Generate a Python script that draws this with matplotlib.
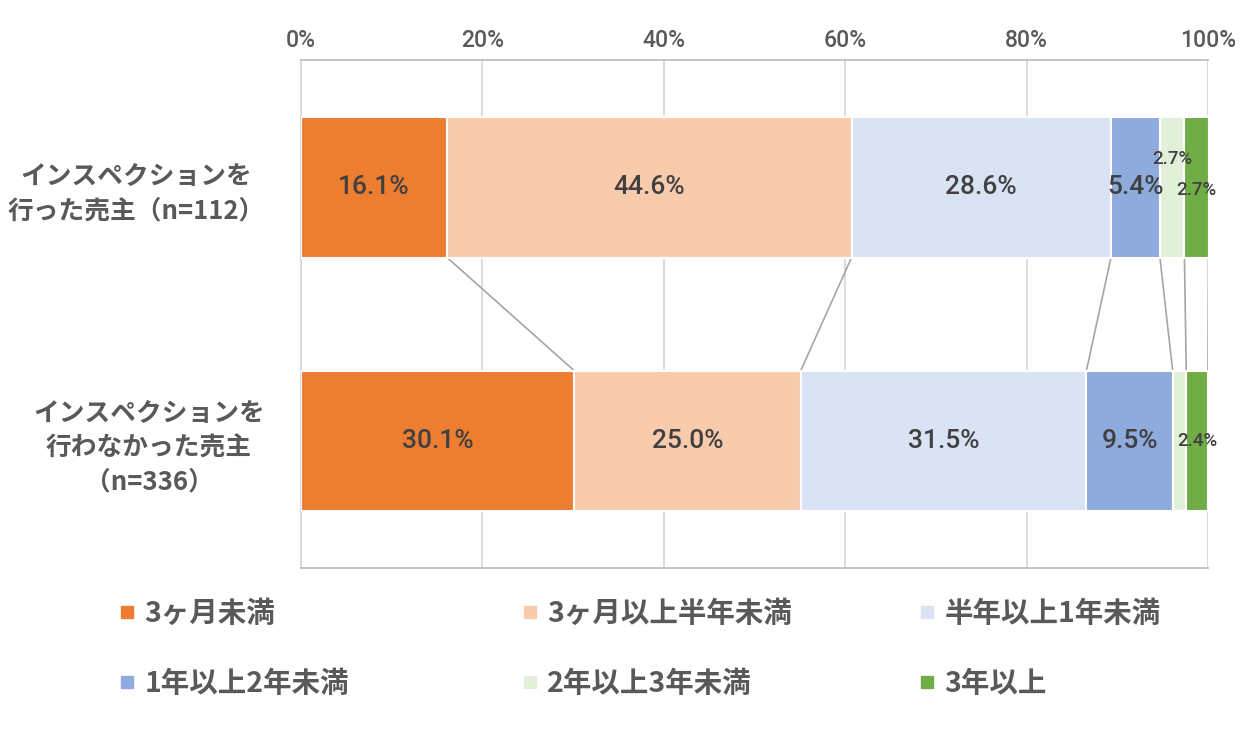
import matplotlib
matplotlib.use('Agg')
import matplotlib.pyplot as plt
from matplotlib.lines import Line2D
from matplotlib import font_manager as fm
from matplotlib.font_manager import FontProperties
import numpy as np

# ---------------- data ----------------
categories = ['インスペクションを\n行った売主（n=112）',
              'インスペクションを\n行わなかった売主\n（n=336）']
series = ['3ヶ月未満', '3ヶ月以上半年未満', '半年以上1年未満',
          '1年以上2年未満', '2年以上3年未満', '3年以上']
did_values = [16.1, 44.6, 28.6, 5.4, 2.7, 2.7]
didnot_values = [30.1, 25.0, 31.5, 9.5, 1.5, 2.4]
did_labels = ['16.1%', '44.6%', '28.6%', '5.4%', '2.7%', '2.7%']
didnot_labels = ['30.1%', '25.0%', '31.5%', '9.5%', '', '2.4%']
x_ticks = [0, 20, 40, 60, 80, 100]
x_tick_labels = ['0%', '20%', '40%', '60%', '80%', '100%']

# ---------------- style ----------------
colors = ['#ED7D31', '#F8CBAD', '#DAE3F3', '#8FAADC', '#E2F0D9', '#70AD47']
names = {f.name for f in fm.fontManager.ttflist}
if 'Liberation Sans Narrow' in names:
    num_font, big_fs, small_fs, tick_fs = 'Liberation Sans Narrow', 21, 15, 18
else:
    num_font, big_fs, small_fs, tick_fs = 'Roboto', 19, 13.5, 16.5
jp_font = ['Noto Sans CJK JP', 'DejaVu Sans']
bar_h = 0.555

fig = plt.figure(figsize=(12.59, 7.33), dpi=100)
ax = fig.add_axes([0.2391, 0.2251, 0.7204, 0.6930])

rows = [did_values, didnot_values]
row_labels = [did_labels, didnot_labels]
ypos = [0, 1]
lefts = [np.concatenate([[0], np.cumsum(r)[:-1]]) for r in rows]
ends = [np.cumsum(r) for r in rows]

for j in range(len(series)):
    ax.barh(ypos, [rows[0][j], rows[1][j]], left=[lefts[0][j], lefts[1][j]],
            height=bar_h, color=colors[j], edgecolor='white', linewidth=1.5,
            zorder=3)

# connector lines
for j in range(len(series)):
    ax.plot([ends[0][j], ends[1][j]], [ypos[0] + bar_h / 2, ypos[1] - bar_h / 2],
            color='#a5a5a5', lw=1.2, zorder=2)

# value labels
label_offsets = {(0, 4): -0.11, (0, 5): 0.01}
for i in range(2):
    for j in range(len(series)):
        txt = row_labels[i][j]
        if not txt:
            continue
        cx = lefts[i][j] + rows[i][j] / 2
        cy = ypos[i] + label_offsets.get((i, j), 0)
        fs = big_fs if rows[i][j] >= 4 else small_fs
        ax.text(cx, cy, txt, ha='center', va='center', fontsize=fs,
                color='#404040', family=num_font, weight='medium', zorder=5)

ax.set_xlim(0, 100)
ax.set_ylim(1.5, -0.5)
ax.set_xticks(x_ticks)
ax.set_xticklabels(x_tick_labels, family=num_font, fontsize=tick_fs, color='#595959',
                   weight='medium')
ax.xaxis.tick_top()
ax.tick_params(axis='x', length=0, pad=6)
ax.xaxis.grid(True, color='#d9d9d9', lw=1.3, zorder=0)
ax.set_axisbelow(True)

ax.set_yticks(ypos)
ax.set_yticklabels(categories, fontproperties=FontProperties(family=jp_font, weight='bold', size=18.5),
                   color='#595959', multialignment='center', linespacing=1.35)
ax.tick_params(axis='y', length=0, pad=26)

for s in ['top', 'bottom']:
    ax.spines[s].set_color('#bfbfbf')
    ax.spines[s].set_linewidth(1.3)
ax.spines['left'].set_color('#d9d9d9')
ax.spines['left'].set_linewidth(1.3)
ax.spines['right'].set_visible(False)

# legends: three columns
col_x = [120, 523, 920]
leg_prop = FontProperties(family=jp_font, weight='bold', size=20.5)
for c in range(3):
    idx = [c, c + 3]
    handles = [Line2D([], [], marker='s', ls='none', markersize=8,
                      markerfacecolor=colors[k], markeredgecolor=colors[k]) for k in idx]
    fig.legend(handles, [series[k] for k in idx], loc='center left',
               bbox_to_anchor=(col_x[c] / 1259, 1 - 649 / 733), frameon=False,
               prop=leg_prop, labelcolor='#595959', handlelength=0.5,
               handletextpad=0.35, labelspacing=1.5, borderpad=0, borderaxespad=0)

fig.savefig('out.png', dpi=100)
